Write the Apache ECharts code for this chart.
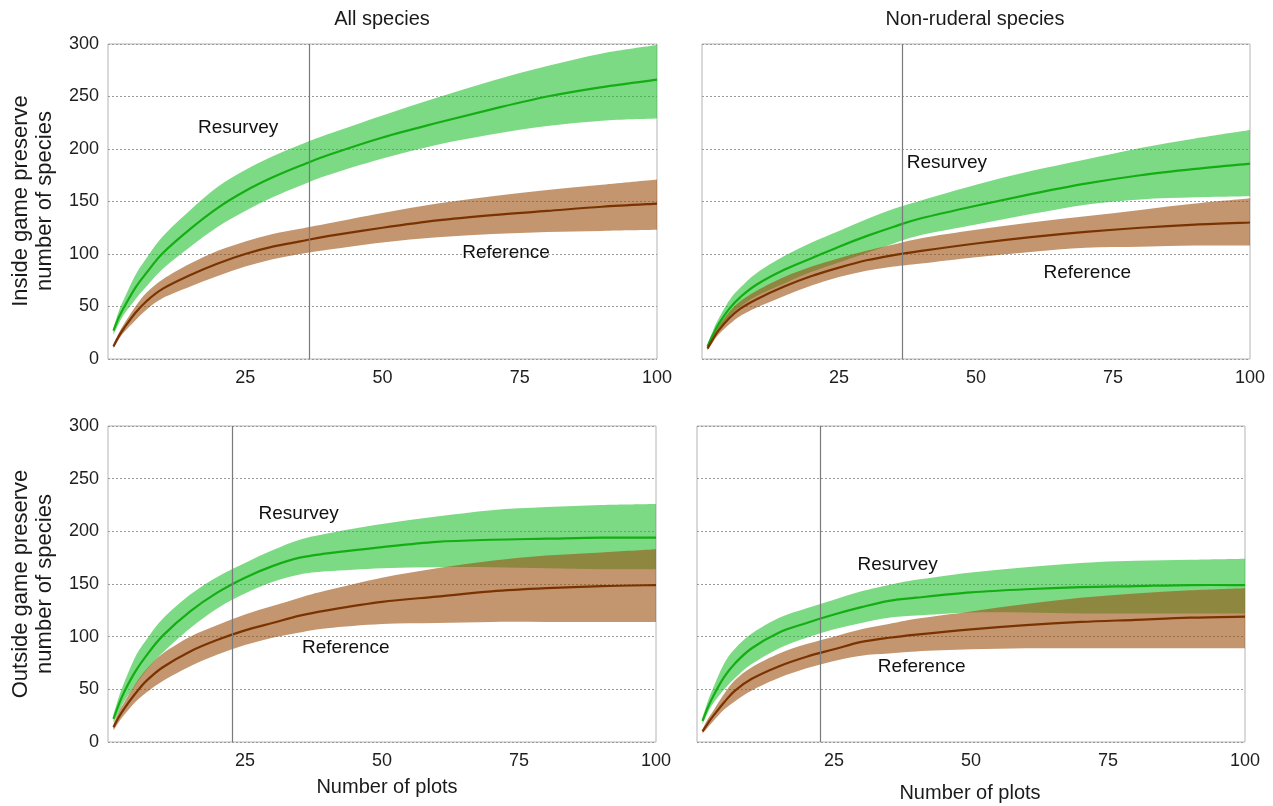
<!DOCTYPE html>
<html><head><meta charset="utf-8">
<script src="https://cdn.jsdelivr.net/npm/echarts@6/dist/echarts.min.js"></script>
<style>html,body{margin:0;padding:0;background:#fff}#c{width:1273px;height:806px}</style>
</head><body><div id="c"></div>
<script>
// ---- data ----
const plots = [1,2,3,5,7,10,15,20,25,30,35,40,50,60,70,80,90,100];
const yTicks = [0,50,100,150,200,250,300];
const xTicks = [0,25,50,75,100];

// Inside game preserve, all species
const tlResMean = [27,40,50,68,82,101,124,144,160,173,184,194,211,225,238,250,259,266];
const tlResLo   = [23,34,43,57,69,86,107,126,141,154,165,175,191,204,214,222,227,229];
const tlResHi   = [30,46,58,80,96,117,142,164,180,193,204,214,232,249,265,279,291,299];
const tlRefMean = [12,22,30,44,55,67,80,91,100,107,112,117,125,132,137,141,145,148];
const tlRefLo   = [10,19,26,37,47,58,69,79,88,95,100,104,111,116,119,121,122,123];
const tlRefHi   = [14,25,34,50,63,76,91,103,112,119,124,129,139,148,155,161,166,171];
// Inside game preserve, non-ruderal species
const trResMean = [12,23,33,48,59,71,85,96,107,117,126,134,146,157,167,175,181,186];
const trResLo   = [10,20,28,40,50,60,72,83,92,101,110,118,128,138,147,152,154,155];
const trResHi   = [14,27,38,56,68,82,98,111,122,133,143,151,166,179,190,201,210,218];
const trRefMean = [10,19,27,39,48,57,69,79,87,94,99,103,110,116,121,125,128,130];
const trRefLo   = [8,16,23,33,41,49,60,70,78,84,88,91,97,102,106,107,108,108];
const trRefHi   = [12,22,31,45,55,65,78,88,96,103,109,115,123,130,136,142,148,153];
// Outside game preserve, all species
const blResMean = [22,36,48,67,82,101,124,142,156,167,175,179,185,190,192,193,194,194];
const blResLo   = [18,29,39,54,68,85,108,127,141,152,159,162,165,166,166,165,164,164];
const blResHi   = [26,43,57,81,97,117,140,157,170,182,192,198,207,214,220,223,225,226];
const blRefMean = [14,24,32,46,58,71,86,97,106,113,120,125,133,138,143,146,148,149];
const blRefLo   = [11,19,26,38,47,58,72,83,92,99,104,108,112,113,114,114,114,114];
const blRefHi   = [17,29,38,55,69,84,100,111,121,129,137,144,156,165,172,177,180,183];
// Outside game preserve, non-ruderal species
const brResMean = [20,33,44,62,75,89,104,113,121,128,134,137,142,145,147,148,149,149];
const brResLo   = [17,28,37,50,61,74,89,99,107,113,118,120,123,123,122,122,122,122];
const brResHi   = [23,39,52,75,89,103,118,127,135,143,149,154,161,166,170,172,173,174];
const brRefMean = [10,18,25,38,49,60,72,81,88,95,99,102,107,111,114,116,118,119];
const brRefLo   = [8,14,20,31,39,49,61,70,77,82,84,86,88,89,89,89,89,89];
const brRefHi   = [12,22,30,46,59,71,84,93,100,107,112,117,124,131,137,141,144,146];

// reference-survey plot counts (vertical lines)
const vlines = [36.6, 36.6, 22.6, 22.5];
// curve label anchors (data coords)
const resLabelAt = [[23.7,220],[44.7,187],[34.8,217],[36.6,168]];
const refLabelAt = [[72.5,101],[70.3,82],[43.4,89],[41.0,71]];

// ---- layout / style ----
const FONT = "'Liberation Sans', Arial, Helvetica, sans-serif";
const GREEN_BAND = 'rgba(37,193,50,0.6)';
const BROWN_BAND = 'rgba(155,80,17,0.6)';
const GREEN_LINE = '#14ae14';
const BROWN_LINE = '#7a3300';

const panels = [
  {grid:{left:108, top:44, width:549, height:315}, res:[tlResLo,tlResMean,tlResHi], ref:[tlRefLo,tlRefMean,tlRefHi], yLab:true},
  {grid:{left:702, top:44, width:548, height:315}, res:[trResLo,trResMean,trResHi], ref:[trRefLo,trRefMean,trRefHi], yLab:false},
  {grid:{left:108, top:426, width:548, height:316}, res:[blResLo,blResMean,blResHi], ref:[blRefLo,blRefMean,blRefHi], yLab:true},
  {grid:{left:697, top:426, width:548, height:316}, res:[brResLo,brResMean,brResHi], ref:[brRefLo,brRefMean,brRefHi], yLab:false}
];

function crPath(p) {
  let s = '';
  for (let i = 0; i < p.length - 1; i++) {
    const p0 = p[Math.max(i-1,0)], p1 = p[i], p2 = p[i+1], p3 = p[Math.min(i+2,p.length-1)];
    const c1 = [p1[0]+(p2[0]-p0[0])/6, p1[1]+(p2[1]-p0[1])/6];
    const c2 = [p2[0]-(p3[0]-p1[0])/6, p2[1]-(p3[1]-p1[1])/6];
    s += ' C' + c1[0] + ' ' + c1[1] + ' ' + c2[0] + ' ' + c2[1] + ' ' + p2[0] + ' ' + p2[1];
  }
  return s;
}
function bandRender(lo, hi, color) {
  return function (params, api) {
    if (params.dataIndex !== 0) return null;
    const up = plots.map((x,i) => api.coord([x, hi[i]]));
    const dn = plots.map((x,i) => api.coord([x, lo[i]])).reverse();
    const d = 'M' + up[0][0] + ' ' + up[0][1] + crPath(up) + ' L' + dn[0][0] + ' ' + dn[0][1] + crPath(dn) + ' Z';
    return {type:'path', shape:{pathData:d}, style:{fill:color, stroke:null}, silent:true};
  };
}
function lineRender(vals, color) {
  return function (params, api) {
    if (params.dataIndex !== 0) return null;
    const pts = plots.map((x,i) => api.coord([x, vals[i]]));
    const d = 'M' + pts[0][0] + ' ' + pts[0][1] + crPath(pts);
    return {type:'path', shape:{pathData:d}, style:{fill:null, stroke:color, lineWidth:2.2}, silent:true};
  };
}

const grids = [], xAxes = [], yAxes = [], series = [];
panels.forEach((p, i) => {
  grids.push(Object.assign({show:true, borderColor:'#b4b4b4', borderWidth:1, backgroundColor:'transparent'}, p.grid));
  xAxes.push({type:'value', gridIndex:i, min:xTicks[0], max:xTicks[xTicks.length-1], interval:xTicks[1]-xTicks[0],
    axisLine:{show:false}, axisTick:{show:false}, splitLine:{show:false},
    axisLabel:{showMinLabel:false, fontSize:18, color:'#1e1e1e', fontFamily:FONT, margin:10}});
  yAxes.push({type:'value', gridIndex:i, min:yTicks[0], max:yTicks[yTicks.length-1], interval:yTicks[1]-yTicks[0],
    axisLine:{show:false}, axisTick:{show:false},
    splitLine:{show:true, lineStyle:{color:'#9a9a9a', type:[2,2], width:1}},
    axisLabel:{show:p.yLab, fontSize:18, color:'#1e1e1e', fontFamily:FONT, margin:9}});
  const [rl, rm, rh] = p.res, [fl, fm, fh] = p.ref;
  series.push({type:'custom', xAxisIndex:i, yAxisIndex:i, silent:true, z:1,
    renderItem: bandRender(rl, rh, GREEN_BAND), data: plots.map((x,k)=>[x, rl[k], rh[k]]), encode:{x:0, y:[1,2]}});
  series.push({type:'custom', xAxisIndex:i, yAxisIndex:i, silent:true, z:2,
    renderItem: bandRender(fl, fh, BROWN_BAND), data: plots.map((x,k)=>[x, fl[k], fh[k]]), encode:{x:0, y:[1,2]}});
  series.push({type:'custom', xAxisIndex:i, yAxisIndex:i, silent:true, z:3,
    renderItem: lineRender(rm, GREEN_LINE), data: plots.map((x,k)=>[x, rm[k]]), encode:{x:0, y:1}});
  series.push({type:'custom', xAxisIndex:i, yAxisIndex:i, silent:true, z:3,
    renderItem: lineRender(fm, BROWN_LINE), data: plots.map((x,k)=>[x, fm[k]]), encode:{x:0, y:1}});
  series.push({type:'line', xAxisIndex:i, yAxisIndex:i, silent:true, z:4, symbol:'none',
    lineStyle:{opacity:0}, data:[],
    markLine:{silent:true, symbol:'none', label:{show:false}, animation:false,
      lineStyle:{color:'#7a7a7a', type:'solid', width:1.2}, data:[{xAxis:vlines[i]}]}});
  series.push({type:'scatter', xAxisIndex:i, yAxisIndex:i, silent:true, z:5, symbolSize:0,
    itemStyle:{color:'rgba(0,0,0,0)'},
    label:{show:true, position:'inside', formatter:'{b}', fontSize:19, color:'#111', fontFamily:FONT,
      textBorderWidth:0, textBorderColor:'transparent', opacity:1},
    data:[{name:'Resurvey', value:resLabelAt[i]}, {name:'Reference', value:refLabelAt[i]}]});
});

const txt = (x, y, text, size) => ({type:'text', x, y, silent:true,
  style:{text, font: size + 'px ' + FONT, fill:'#1a1a1a', align:'center', verticalAlign:'middle'}});

const chart = echarts.init(document.getElementById('c'), null, {renderer:'canvas'});
chart.setOption({
  animation:false,
  backgroundColor:'#fff',
  grid: grids, xAxis: xAxes, yAxis: yAxes, series,
  graphic: [
    txt(382, 19, 'All species', 20),
    txt(975, 19, 'Non-ruderal species', 20),
    txt(387, 787, 'Number of plots', 20),
    txt(970, 793, 'Number of plots', 20),
    {type:'text', x:33, y:201, rotation:Math.PI/2, silent:true,
      style:{text:'Inside game preserve\nnumber of species', font:'22px ' + FONT, fill:'#1a1a1a', align:'center', verticalAlign:'middle', lineHeight:24}},
    {type:'text', x:33, y:584, rotation:Math.PI/2, silent:true,
      style:{text:'Outside game preserve\nnumber of species', font:'22px ' + FONT, fill:'#1a1a1a', align:'center', verticalAlign:'middle', lineHeight:24}}
  ]
});
</script>
</body></html>
